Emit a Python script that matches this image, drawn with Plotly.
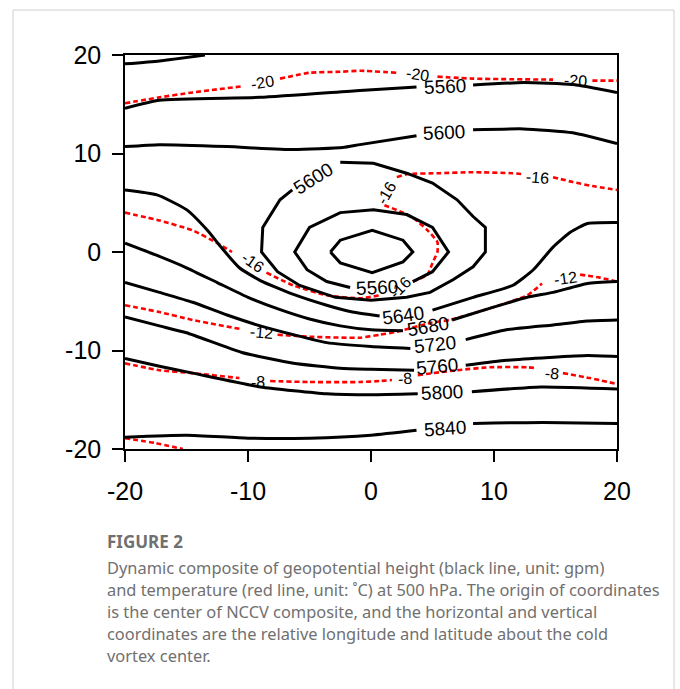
import plotly.graph_objects as go

# ---- geopotential height contours at 500 hPa (gpm) ----
# None marks the break left in a line for its inline label
h5520_top_x = [-20, -17.2, -13.5]
h5520_top_y = [19.1, 19.4, 20.0]

h5520_x = [-3.3, -2.5, 0.1, 2.6, 3.4, 2.6, 0.1, -2.5, -3.3]
h5520_y = [0.0, 1.2, 2.2, 1.2, 0.0, -1.0, -2.1, -1.1, 0.0]

h5560_x = [-20, -17.2, -9.0, -0.9, 3.7, None, 8.3, 12.4, 16.4, 20]
h5560_y = [14.6, 15.4, 15.7, 16.4, 16.75, None, 16.95, 17.2, 17.0, 16.2]

h5560_ring_x = [3.4, 5.0, 6.3, 5.0, 2.9, 0.2, -2.5, -5.0, -6.2, -5.2, -3.6, -1.7]
h5560_ring_y = [-3.0, -2.0, 0.0, 2.5, 3.8, 4.3, 4.0, 2.5, 0.0, -1.8, -3.0, -3.6]

h5600_x = [-20, -17.2, -11.7, -6.3, -2.3, -0.9, 3.7, None, 8.3, 12.4, 16.4, 20]
h5600_y = [10.7, 10.9, 10.7, 10.4, 10.6, 10.9, 11.8, None, 12.4, 12.5, 12.1, 11.0]

h5600_ring_x = [-2.5, 0.2, 2.9, 5.0, 7.0, 8.3, 9.3, 9.3, 8.3, 6.7, 4.8, 2.9, 0.0,
                -2.9, -5.8, -7.6, -8.9, -8.8, -7.4, -6.4]
h5600_ring_y = [9.1, 9.0, 8.0, 7.0, 5.3, 3.6, 2.5, 0.0, -1.5, -2.8, -4.1, -4.6, -4.9,
                -4.6, -3.4, -2.0, 0.0, 2.5, 5.3, 6.3]

h5640_x = [-20, -17.4, -15.0, -13.3, -12.2, -10.7, -9.0, -6.3, -3.6, -1.5, 0.7, None,
           5.0, 8.3, 11.5, 13.2, 14.8, 16.2, 17.6, 20]
h5640_y = [6.3, 5.8, 4.3, 2.2, 0.5, -1.6, -2.9, -4.3, -5.4, -6.1, -6.5, None,
           -5.9, -4.6, -3.4, -1.8, 0.5, 2.0, 2.9, 3.0]

h5680_x = [-20, -17.5, -15, -12.5, -10, -7.5, -5, -2.5, 0, 2.6, None,
           6.6, 9.7, 12.7, 14.8, 17.6, 20]
h5680_y = [0.9, -0.3, -1.6, -3.1, -4.6, -5.8, -6.8, -7.5, -7.9, -8.0, None,
           -6.9, -5.7, -4.6, -4.1, -3.2, -3.0]

h5720_x = [-20, -17.2, -14.5, -11.7, -9, -6.3, -3.6, 0, 3.2, None, 7.7, 11, 14.8, 17.6, 20]
h5720_y = [-3.1, -4.1, -5.1, -6.4, -7.5, -8.4, -9.2, -9.6, -9.8, None, -8.9, -7.9, -7.4, -7.0, -6.9]

h5760_x = [-20, -17.2, -15, -10.5, -6.3, -2.5, 0, 3.5, None, 7.7, 11, 14.5, 17.6, 20]
h5760_y = [-6.6, -7.5, -8.2, -10.2, -11.3, -11.8, -11.9, -12.0, None, -11.5, -11.0, -10.7, -10.5, -10.6]

h5800_x = [-20, -17.2, -14.5, -9, -3.6, 0, 3.8, None, 8.2, 13.8, 20]
h5800_y = [-10.8, -11.6, -12.3, -13.7, -14.4, -14.5, -14.4, None, -14.2, -13.7, -13.9]

h5840_x = [-20, -15, -10, -5, 0, 3.7, None, 8.3, 14, 20]
h5840_y = [-18.8, -18.6, -18.9, -18.9, -18.6, -18.1, None, -17.4, -17.3, -17.4]

# ---- temperature contours at 500 hPa (deg C) ----
t20_x = [-20, -17.2, -14.5, -10.6, None, -7.4, -5.0, -2.5, -0.9, 2.1, None,
         5.4, 8.3, 14.8, None, 18.0, 20]
t20_y = [15.1, 15.7, 16.2, 16.8, None, 17.6, 18.2, 18.3, 18.4, 18.2, None,
         17.8, 17.6, 17.5, None, 17.4, 17.4]

t16_x = [-20, -17.2, -14.5, -12.5, -11.3, None, -8.5, -6.3, -3.6, -0.9, 0.7, None,
         3.4, 4.6, 5.0, 5.4, 5.4, 4.6, 3.4, 2.4, 1.0, None,
         2.1, 2.9, 5.6, 8.3, 11.5, 12.3, None, 14.8, 16.4, 18.0, 20]
t16_y = [4.0, 3.2, 2.2, 0.9, 0.0, None, -2.1, -3.4, -4.4, -4.7, -4.4, None,
         -3.0, -2.3, -1.1, 0.0, 1.0, 2.2, 3.5, 4.1, 4.8, None,
         7.6, 7.9, 8.0, 8.1, 8.0, 7.9, None, 7.6, 7.1, 6.7, 6.3]

t12_x = [-20, -17.2, -14.5, -10.7, None, -7.6, -5.0, -0.9, 0.7, 2.1, 4.8, 6.4, 9.7,
         12.7, 13.9, None, 17.0, 18.6, 20]
t12_y = [-5.4, -6.1, -6.9, -7.8, None, -8.4, -8.6, -8.7, -8.4, -8.1, -7.2, -6.9, -5.7,
         -4.4, -3.2, None, -2.3, -2.6, -3.0]

t8_x = [-20, -17.2, -14.5, -10.7, None, -8.2, -5.0, -0.9, 0.7, 1.7, None,
        3.8, 7.0, 9.7, 12.7, 13.5, None, 15.6, 17.8, 20]
t8_y = [-11.3, -12.0, -12.3, -12.8, None, -13.1, -13.2, -13.2, -13.1, -13.0, None,
        -12.5, -12.0, -11.7, -11.7, -11.8, None, -12.3, -12.8, -13.4]

t4_x = [-20, -17.5, -15.3]
t4_y = [-18.9, -19.4, -20.0]

# ---- inline contour labels: text, x, y, angle ----
height_labels = ["5560", "5600", "5600", "5560", "5640", "5680", "5720", "5760", "5800", "5840"]
height_label_x = [6.0, 5.9, -4.7, 0.5, 2.6, 4.6, 5.2, 5.4, 5.8, 6.0]
height_label_y = [16.8, 12.1, 7.5, -3.65, -6.4, -7.6, -9.4, -11.6, -14.3, -17.9]
height_label_angle = [-3, -3, -32, -3, -8, -10, -6, -5, -3, -4]

temp_labels = ["-20", "-20", "-20", "-16", "-16", "-16", "-16", "-12", "-12", "-8", "-8", "-8"]
temp_label_x = [-8.8, 3.8, 16.6, 13.5, -9.6, 1.3, 2.4, -8.9, 15.8, -9.2, 2.8, 14.7]
temp_label_y = [17.2, 18.0, 17.4, 7.6, -1.1, 6.0, -3.65, -8.2, -2.7, -13.2, -12.8, -12.3]
temp_label_angle = [-10, 8, 3, 5, 35, -60, -45, 5, -8, 0, -5, 5]

tick_vals = [-20, -10, 0, 10, 20]
tick_text = ["-20", "-10", "0", "10", "20"]

caption_title = "FIGURE 2"
caption_lines = [
    "Dynamic composite of geopotential height (black line, unit: gpm)",
    "and temperature (red line, unit: \u02daC) at 500 hPa. The origin of coordinates",
    "is the center of NCCV composite, and the horizontal and vertical",
    "coordinates are the relative longitude and latitude about the cold",
    "vortex center.",
]

# ---- figure geometry (pixels) ----
W, H = 680, 689
L, R, T, B = 125, 617, 55, 449


def px_x(p):
    return (p - L) / (R - L)


def px_y(p):
    return (B - p) / (B - T)


fig = go.Figure()

open_height_lines = [
    (h5520_top_x, h5520_top_y), (h5560_x, h5560_y), (h5600_x, h5600_y),
    (h5640_x, h5640_y), (h5680_x, h5680_y), (h5720_x, h5720_y),
    (h5760_x, h5760_y), (h5800_x, h5800_y), (h5840_x, h5840_y),
]
closed_height_lines = [
    (h5520_x, h5520_y), (h5560_ring_x, h5560_ring_y), (h5600_ring_x, h5600_ring_y),
]
temp_lines = [(t20_x, t20_y), (t16_x, t16_y), (t12_x, t12_y), (t8_x, t8_y), (t4_x, t4_y)]

for xs, ys in temp_lines:
    fig.add_trace(go.Scatter(
        x=xs, y=ys, mode="lines", hoverinfo="skip", showlegend=False,
        line=dict(color="#ff0000", width=2.6, dash="5px,3px", shape="spline", smoothing=0.5),
    ))

for xs, ys in open_height_lines:
    fig.add_trace(go.Scatter(
        x=xs, y=ys, mode="lines", hoverinfo="skip", showlegend=False,
        line=dict(color="#000000", width=3, shape="spline", smoothing=0.5),
    ))

for xs, ys in closed_height_lines:
    fig.add_trace(go.Scatter(
        x=xs, y=ys, mode="lines", hoverinfo="skip", showlegend=False,
        line=dict(color="#000000", width=3),
    ))

for txt, x, y, a in zip(height_labels, height_label_x, height_label_y, height_label_angle):
    fig.add_annotation(x=x, y=y, text=txt, textangle=a, showarrow=False,
                       font=dict(family="Liberation Sans", size=19, color="#000"))

for txt, x, y, a in zip(temp_labels, temp_label_x, temp_label_y, temp_label_angle):
    fig.add_annotation(x=x, y=y, text=txt, textangle=a, showarrow=False,
                       font=dict(family="Liberation Sans", size=16, color="#000"))

# caption below the panel
fig.add_annotation(xref="paper", yref="paper", x=px_x(105), y=px_y(541),
                   xanchor="left", yanchor="middle", showarrow=False,
                   text="<b>" + caption_title + "</b>",
                   font=dict(family="Noto Sans", size=17, color="#707070"))
for i, line in enumerate(caption_lines):
    fig.add_annotation(xref="paper", yref="paper", x=px_x(105), y=px_y(567 + 22 * i),
                       xanchor="left", yanchor="middle", showarrow=False, text=line,
                       font=dict(family="Noto Sans", size=16.4, color="#707070"))

# light outer frame of the figure panel
fig.add_shape(type="rect", xref="paper", yref="paper",
              x0=px_x(13), x1=px_x(674), y0=px_y(720), y1=px_y(10),
              line=dict(color="#cfcfcf", width=1), fillcolor="rgba(0,0,0,0)", layer="below")

axis_common = dict(
    showgrid=False, zeroline=False, showline=True, linecolor="#000", linewidth=1.5,
    mirror=True, ticks="outside", ticklen=11, tickwidth=1.5, tickcolor="#000",
    tickvals=tick_vals, ticktext=tick_text,
    tickfont=dict(family="Liberation Sans", size=25, color="#000"),
)

fig.update_xaxes(range=[-20, 20], ticklabelstandoff=8, **axis_common)
fig.update_yaxes(range=[-20, 20], ticklabelstandoff=6, **axis_common)

fig.update_layout(
    width=W, height=H,
    margin=dict(l=L, r=W - R, t=T, b=H - B, pad=0),
    paper_bgcolor="#ffffff", plot_bgcolor="#ffffff",
    showlegend=False, hovermode=False,
)

fig.write_html("out.html", config={"displayModeBar": False})
